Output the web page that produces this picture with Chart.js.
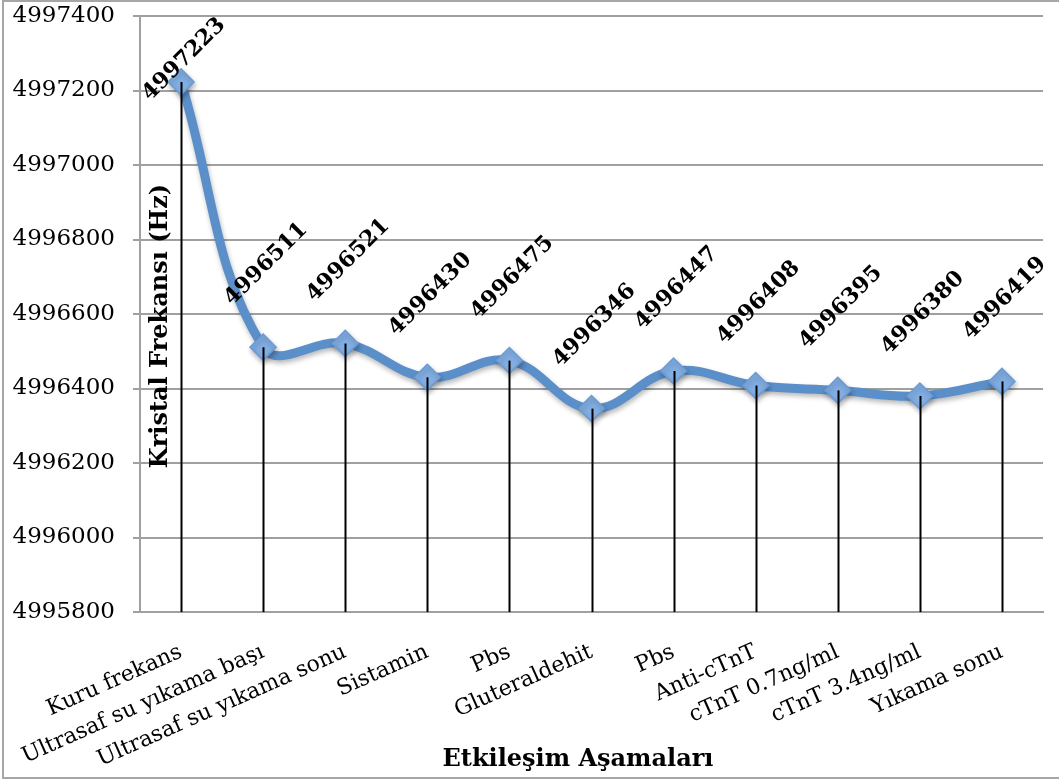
<!DOCTYPE html>
<html>
<head>
<meta charset="utf-8">
<script src="https://cdn.jsdelivr.net/npm/chart.js@4/dist/chart.umd.min.js"></script>
<style>
  html, body { margin: 0; padding: 0; background: #fff; }
  #wrap { position: relative; width: 1059px; height: 783px; }
</style>
</head>
<body>
<div id="wrap"><canvas id="c" width="1059" height="783"></canvas></div>
<script>
// Stages of the interaction experiment
const stages = [
  'Kuru frekans',
  'Ultrasaf su yıkama başı',
  'Ultrasaf su yıkama sonu',
  'Sistamin',
  'Pbs',
  'Gluteraldehit',
  'Pbs',
  'Anti-cTnT',
  'cTnT 0.7ng/ml',
  'cTnT 3.4ng/ml',
  'Yıkama sonu'
];

// Crystal frequency measured after each stage (Hz)
const frequencies = [
  4997223, 4996511, 4996521, 4996430, 4996475, 4996346,
  4996447, 4996408, 4996395, 4996380, 4996419
];

// Y axis tick values
const yTicks = [4995800, 4996000, 4996200, 4996400, 4996600, 4996800, 4997000, 4997200, 4997400];

const yTitle = 'Kristal Frekansı (Hz)';
const xTitle = 'Etkileşim Aşamaları';

const SERIF = '"DejaVu Serif", serif';

// White page with a thin grey frame
const framePlugin = {
  id: 'frame',
  beforeDraw(chart) {
    const ctx = chart.ctx;
    ctx.save();
    ctx.fillStyle = '#ffffff';
    ctx.fillRect(0, 0, chart.width, chart.height);
    ctx.strokeStyle = '#a6a6a6';
    ctx.lineWidth = 2;
    ctx.strokeRect(3, 1, chart.width + 10, 777);
    ctx.restore();
  }
};

// Soft shadow under the series line
const shadowPlugin = {
  id: 'lineShadow',
  beforeDatasetDraw(chart) {
    const ctx = chart.ctx;
    ctx.save();
    ctx.shadowColor = 'rgba(0,0,0,0.28)';
    ctx.shadowBlur = 5;
    ctx.shadowOffsetX = 1;
    ctx.shadowOffsetY = 3;
  },
  afterDatasetDraw(chart) {
    chart.ctx.restore();
  }
};

// Drop lines from each point to the category axis, and rotated value labels
const dropAndLabels = {
  id: 'dropAndLabels',
  afterDatasetsDraw(chart) {
    const ctx = chart.ctx;
    const area = chart.chartArea;
    const meta = chart.getDatasetMeta(0);
    ctx.save();
    ctx.strokeStyle = '#000000';
    ctx.lineWidth = 2;
    meta.data.forEach((pt) => {
      const x = Math.round(pt.x) + 0.5;
      ctx.beginPath();
      ctx.moveTo(x, pt.y);
      ctx.lineTo(x, area.bottom);
      ctx.stroke();
    });

    ctx.font = 'bold 22px ' + SERIF;
    ctx.fillStyle = '#000000';
    ctx.textAlign = 'center';
    ctx.textBaseline = 'middle';
    const data = chart.data.datasets[0].data;
    meta.data.forEach((pt, i) => {
      const txt = String(data[i]);
      const w = ctx.measureText(txt).width;
      const half = (w + 16) / (2 * Math.SQRT2);
      const cx = pt.x + 3;
      const cy = Math.max(pt.y - 83, area.top + half);
      ctx.save();
      ctx.translate(cx, cy);
      ctx.rotate(-Math.PI / 4);
      ctx.fillText(txt, 0, 0);
      ctx.restore();
    });
    ctx.restore();
  },
  afterDraw(chart) {
    const ctx = chart.ctx;
    ctx.save();
    ctx.fillStyle = '#000000';
    ctx.font = 'bold 24px ' + SERIF;
    ctx.textAlign = 'center';
    ctx.textBaseline = 'middle';
    // vertical axis title sits inside the plot, beside the first drop line
    ctx.save();
    ctx.translate(161, 326);
    ctx.rotate(-Math.PI / 2);
    ctx.fillText(yTitle, 0, 0);
    ctx.restore();
    // horizontal axis title
    ctx.fillText(xTitle, 578, 760);
    ctx.restore();
  }
};

new Chart(document.getElementById('c'), {
  type: 'line',
  data: {
    labels: stages,
    datasets: [{
      data: frequencies,
      borderColor: '#5b8fc9',
      borderWidth: 9,
      tension: 0.4,
      fill: false,
      pointStyle: 'rectRot',
      pointRadius: 13,
      pointHoverRadius: 13,
      pointBackgroundColor: '#82aee3',
      pointBorderColor: '#6b9ad3',
      pointBorderWidth: 1.5
    }]
  },
  options: {
    responsive: false,
    animation: false,
    events: [],
    layout: { padding: { top: 16, right: 16, left: 0, bottom: 0 } },
    plugins: {
      legend: { display: false },
      tooltip: { enabled: false },
      title: { display: false }
    },
    scales: {
      x: {
        type: 'category',
        offset: true,
        grid: { display: false, drawTicks: false },
        border: { display: true, color: '#a0a0a0', width: 2 },
        ticks: {
          autoSkip: false,
          minRotation: 24,
          maxRotation: 24,
          padding: 27,
          color: '#000000',
          font: { family: SERIF, size: 22 }
        },
        afterFit(scale) {
          scale.height = 171;
          scale.paddingLeft = 0;
          scale.paddingRight = 0;
        }
      },
      y: {
        min: yTicks[0],
        max: yTicks[yTicks.length - 1],
        afterBuildTicks(scale) {
          scale.ticks = yTicks.map(v => ({ value: v }));
        },
        grid: { color: '#a0a0a0', lineWidth: 2, tickLength: 7, drawTicks: true },
        border: { display: true, color: '#a0a0a0', width: 2 },
        ticks: {
          padding: 18,
          color: '#000000',
          font: { family: SERIF, size: 23 },
          callback: (v) => String(v)
        },
        afterFit(scale) {
          scale.width = 140;
          scale.paddingTop = 0;
          scale.paddingBottom = 0;
        }
      }
    }
  },
  plugins: [framePlugin, shadowPlugin, dropAndLabels]
});
</script>
</body>
</html>
